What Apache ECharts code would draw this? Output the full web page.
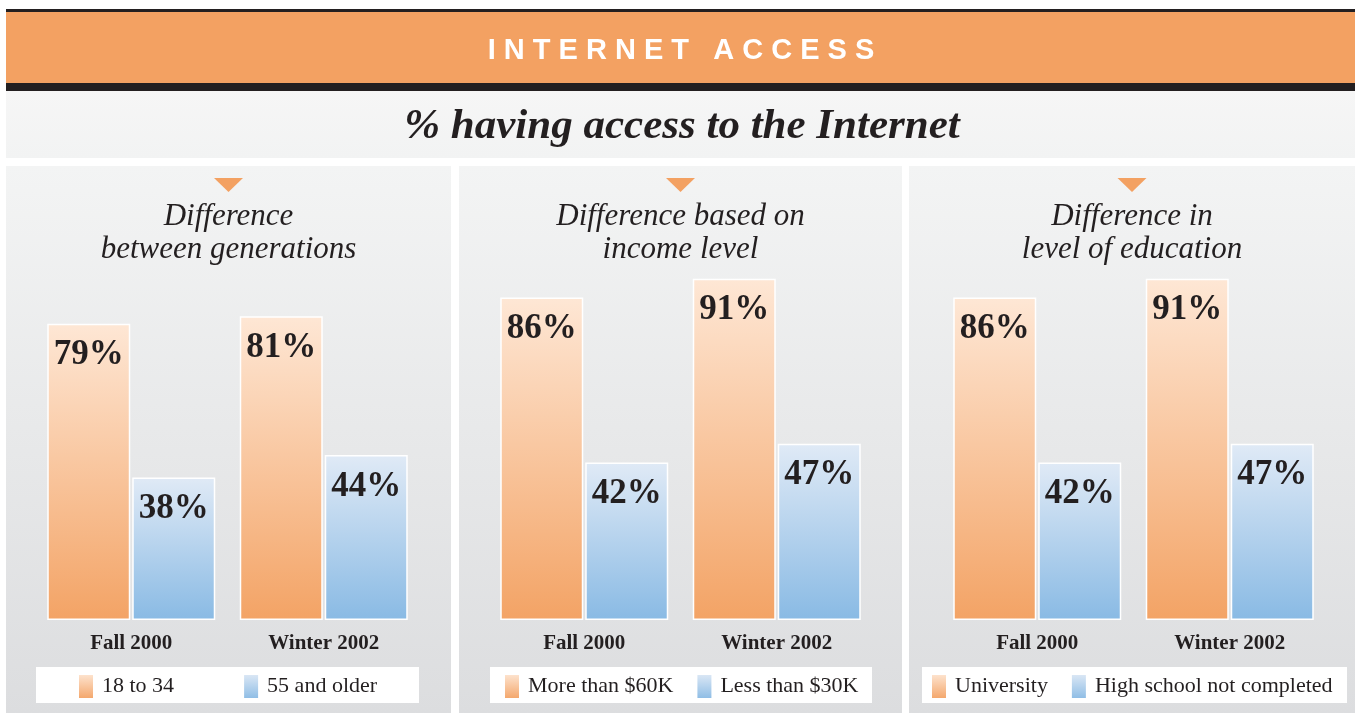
<!DOCTYPE html>
<html>
<head>
<meta charset="utf-8">
<title>Internet access</title>
<script src="https://cdn.jsdelivr.net/npm/echarts@6/dist/echarts.min.js"></script>
<style>
  html, body { margin: 0; padding: 0; background: #fff; }
  #chart { width: 1359px; height: 713px; }
</style>
</head>
<body>
<div id="chart"></div>
<script>
// categories and values
var categories = ['Fall 2000', 'Winter 2002'];
var age18to34 = [79, 81];
var age55older = [38, 44];
var incomeOver60k = [86, 91];
var incomeUnder30k = [42, 47];
var eduUniversity = [86, 91];
var eduNoHighSchool = [42, 47];

var panelTitles = [
  'Difference\nbetween generations',
  'Difference based on\nincome level',
  'Difference in\nlevel of education'
];
var legendNames = [
  ['18 to 34', '55 and older'],
  ['More than $60K', 'Less than $30K'],
  ['University', 'High school not completed']
];

var serif = '"Liberation Serif", "DejaVu Serif", serif';
var ink = '#231f20';

var orangeFill = {
  type: 'linear', x: 0, y: 0, x2: 0, y2: 1,
  colorStops: [{ offset: 0, color: '#fee7d5' }, { offset: 1, color: '#f3a365' }]
};
var blueFill = {
  type: 'linear', x: 0, y: 0, x2: 0, y2: 1,
  colorStops: [{ offset: 0, color: '#e0eaf6' }, { offset: 1, color: '#89bae4' }]
};
var panelFill = {
  type: 'linear', x: 0, y: 0, x2: 0, y2: 1,
  colorStops: [{ offset: 0, color: '#f3f4f4' }, { offset: 1, color: '#dcdddf' }]
};

// panel boxes [left, right]
var panels = [[6, 451], [459, 902], [909, 1355]];
var gridLefts = [35, 488, 941];
var legendLefts = [77, 503, 930];
var legendGaps = [68, 22, 22];
var legendBoxes = [[36, 419], [490, 872], [922, 1347]];

var graphics = [
  // header band
  { type: 'rect', z: 0, shape: { x: 6, y: 9, width: 1349, height: 3 }, style: { fill: '#231f20' } },
  { type: 'rect', z: 0, shape: { x: 6, y: 12, width: 1349, height: 71 }, style: { fill: '#f3a162' } },
  { type: 'rect', z: 0, shape: { x: 6, y: 83, width: 1349, height: 8 }, style: { fill: '#231f20' } },
  {
    type: 'text', z: 1, x: 681, y: 51,
    style: {
      text: 'I N T E R N E T   A C C E S S',
      fill: '#fff', font: 'bold 29px "Liberation Sans", Arial, sans-serif',
      align: 'center', verticalAlign: 'middle'
    }
  },
  // subtitle band
  {
    type: 'rect', z: 0, shape: { x: 6, y: 91, width: 1349, height: 67 },
    style: { fill: { type: 'linear', x: 0, y: 0, x2: 0, y2: 1, colorStops: [{ offset: 0, color: '#f6f6f6' }, { offset: 1, color: '#f2f3f3' }] } }
  },
  {
    type: 'text', z: 1, x: 682, y: 127,
    style: {
      text: '% having access to the Internet',
      fill: ink, font: 'italic bold 43px ' + serif,
      align: 'center', verticalAlign: 'middle'
    }
  }
];

panels.forEach(function (p, i) {
  var cx = (p[0] + p[1]) / 2;
  graphics.push({ type: 'rect', z: 0, shape: { x: p[0], y: 166, width: p[1] - p[0], height: 547 }, style: { fill: panelFill } });
  graphics.push({ type: 'polygon', z: 1, shape: { points: [[cx - 14.5, 178], [cx + 14.5, 178], [cx, 192]] }, style: { fill: '#f3a162' } });
  graphics.push({
    type: 'text', z: 1, x: cx, y: 233,
    style: {
      text: panelTitles[i], fill: ink, font: 'italic 31px ' + serif,
      lineHeight: 33, align: 'center', verticalAlign: 'middle'
    }
  });
  var lb = legendBoxes[i];
  graphics.push({ type: 'rect', z: 1, shape: { x: lb[0], y: 667, width: lb[1] - lb[0], height: 36 }, style: { fill: '#fff' } });
});

var seriesValues = [
  [age18to34, age55older],
  [incomeOver60k, incomeUnder30k],
  [eduUniversity, eduNoHighSchool]
];

var grids = [], xAxes = [], yAxes = [], series = [], legends = [];
for (var i = 0; i < 3; i++) {
  grids.push({ left: gridLefts[i], top: 245, width: 385, height: 375 });
  xAxes.push({
    type: 'category', gridIndex: i, data: categories,
    axisLine: { show: false }, axisTick: { show: false },
    axisLabel: { margin: 13, fontFamily: serif, fontWeight: 'bold', fontSize: 21, color: ink }
  });
  yAxes.push({ type: 'value', gridIndex: i, min: 0, max: 100, show: false });
  [orangeFill, blueFill].forEach(function (fill, k) {
    series.push({
      name: legendNames[i][k],
      type: 'bar', xAxisIndex: i, yAxisIndex: i,
      data: seriesValues[i][k],
      barWidth: 83, barGap: '2.4%',
      itemStyle: { color: fill, borderColor: '#fff', borderWidth: 1.5 },
      label: {
        show: true, position: 'insideTop', distance: 14,
        formatter: '{c}%', fontFamily: serif, fontWeight: 'bold',
        fontSize: 35, color: ink
      },
      emphasis: { disabled: true }
    });
  });
  legends.push({
    data: legendNames[i], left: legendLefts[i], top: 673, padding: 0,
    icon: 'rect', itemWidth: 16, itemHeight: 25, itemGap: legendGaps[i],
    selectedMode: false,
    textStyle: { fontFamily: serif, fontSize: 22, color: ink, padding: [0, 0, 0, 3] }
  });
}

var chart = echarts.init(document.getElementById('chart'));
chart.setOption({
  animation: false,
  backgroundColor: '#fff',
  graphic: graphics,
  grid: grids,
  xAxis: xAxes,
  yAxis: yAxes,
  legend: legends,
  series: series
});
</script>
</body>
</html>
